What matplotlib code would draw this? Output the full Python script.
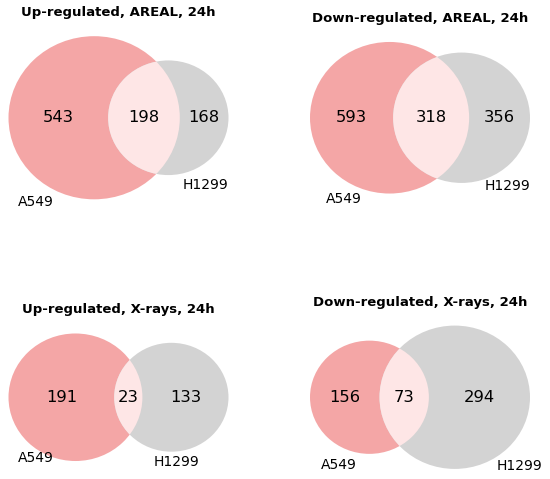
import numpy as np
import matplotlib.pyplot as plt
from matplotlib.patches import Circle

titles = ['Up-regulated, AREAL, 24h', 'Down-regulated, AREAL, 24h',
          'Up-regulated, X-rays, 24h', 'Down-regulated, X-rays, 24h']
only_a549 = [543, 593, 191, 156]
both = [198, 318, 23, 73]
only_h1299 = [168, 356, 133, 294]
set_names = ['A549', 'H1299']

# where the set names sit, relative to each circle centre (in radii)
label_a_off = [(-0.686, 1.037), (-0.57, 1.07), (-0.59, 0.96), (-0.51, 1.19)]
label_b_off = [(0.617, 1.168), (0.672, 1.046), (0.096, 1.193), (0.864, 0.958)]

pink = '#F4A6A6'
grey = '#D3D3D3'
lens_col = '#FEE6E6'

W, H = 550, 479
col_centers = [118.5, 420]
row_centers = [117.75, 397.25]
union_px = 220
box_h = 170
stretch = 1.05


def lens_area(r1, r2, d):
  if d >= r1 + r2:
    return 0.0
  if d <= abs(r1 - r2):
    return np.pi * min(r1, r2) ** 2
  a = r1 ** 2 * np.arccos((d * d + r1 * r1 - r2 * r2) / (2 * d * r1))
  b = r2 ** 2 * np.arccos((d * d + r2 * r2 - r1 * r1) / (2 * d * r2))
  c = 0.5 * np.sqrt((-d + r1 + r2) * (d + r1 - r2) * (d - r1 + r2) * (d + r1 + r2))
  return a + b - c


def find_distance(r1, r2, area):
  lo, hi = abs(r1 - r2), r1 + r2
  for _ in range(100):
    mid = (lo + hi) / 2
    if lens_area(r1, r2, mid) > area:
      lo = mid
    else:
      hi = mid
  return (lo + hi) / 2


fig = plt.figure(figsize=(W / 100, H / 100), dpi=100)

for i in range(4):
  row, col = i // 2, i % 2
  a, ab, b = only_a549[i], both[i], only_h1299[i]
  total = a + ab + b
  ra = np.sqrt((a + ab) / total / np.pi)
  rb = np.sqrt((b + ab) / total / np.pi)
  d = find_distance(ra, rb, ab / total)

  xmin, xmax = -ra, d + rb
  sx = union_px / (xmax - xmin)
  sy = sx / stretch

  cc, rc = col_centers[col], row_centers[row]
  ax = fig.add_axes([(cc - union_px / 2) / W, 1 - (rc + box_h / 2) / H,
                     union_px / W, box_h / H])
  ax.set_xlim(xmin, xmax)
  ax.set_ylim(-box_h / 2 / sy, box_h / 2 / sy)
  ax.axis('off')

  ca = Circle((0, 0), ra, fc=pink, ec='none', clip_on=False)
  cb = Circle((d, 0), rb, fc=grey, ec='none', clip_on=False)
  ax.add_patch(ca)
  ax.add_patch(cb)
  lens = Circle((d, 0), rb, fc=lens_col, ec='none')
  ax.add_patch(lens)
  lens.set_clip_path(ca)

  xs = [(-ra + d - rb) / 2, (d - rb + ra) / 2, (ra + d + rb) / 2]
  for x, v in zip(xs, [a, ab, b]):
    ax.text(x, 0, str(v), ha='center', va='center', fontsize=11.8)

  ox, oy = label_a_off[i]
  ax.text(ox * ra, -oy * ra, set_names[0], ha='center', va='center', fontsize=10)
  ox, oy = label_b_off[i]
  ax.text(d + ox * rb, -oy * rb, set_names[1], ha='center', va='center', fontsize=10)

  ax.annotate(titles[i], xy=(0.5, max(ra, rb)), xycoords=('axes fraction', 'data'),
              xytext=(0, 23.5 * 0.72), textcoords='offset points',
              ha='center', va='center', fontsize=9.5, fontweight='bold',
              annotation_clip=False)

fig.savefig('out.png', dpi=100)
